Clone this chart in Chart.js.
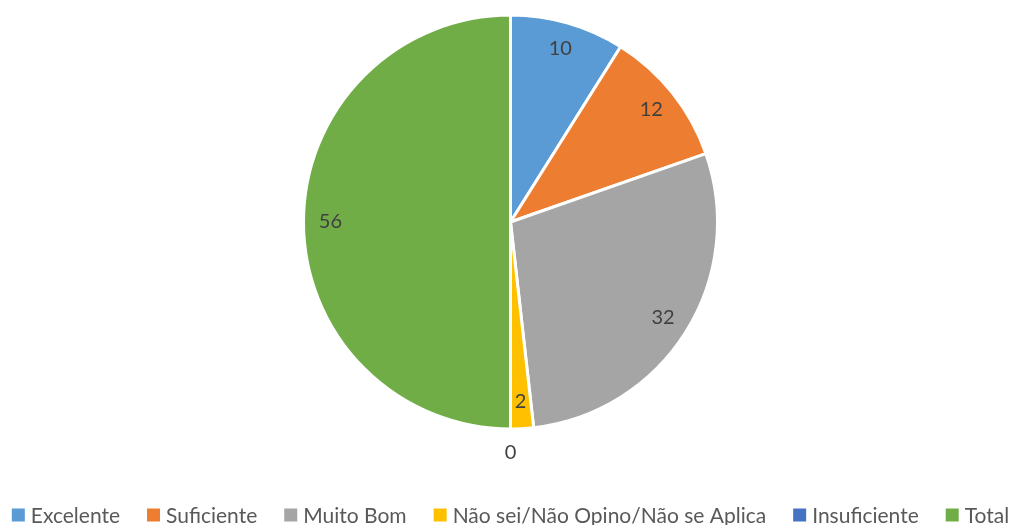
<!DOCTYPE html>
<html lang="pt">
<head>
<meta charset="UTF-8">
<title>Avaliação</title>
<script src="https://cdn.jsdelivr.net/npm/chart.js"></script>
<style>
    body { margin: 0; background: #ffffff; }
    .wrap { position: relative; width: 1021px; height: 525px; }
</style>
</head>
<body>
<div class="wrap"><canvas id="pie"></canvas></div>
<script>
const categories = ['Excelente', 'Suficiente', 'Muito Bom', 'Não sei/Não Opino/Não se Aplica', 'Insuficiente', 'Total'];
const values = [10, 12, 32, 2, 0, 56];
const colors = ['#5B9BD5', '#ED7D31', '#A5A5A5', '#FFC000', '#4472C4', '#70AD47'];

const FONT = 'Lato, "Open Sans", sans-serif';

// data labels drawn near the outer edge of each slice, like Excel
const sliceLabels = {
    id: 'sliceLabels',
    afterDatasetsDraw(chart) {
        const ctx = chart.ctx;
        const meta = chart.getDatasetMeta(0);
        ctx.save();
        ctx.font = '20px ' + FONT;
        ctx.fillStyle = '#404040';
        ctx.textAlign = 'center';
        ctx.textBaseline = 'middle';
        meta.data.forEach((arc, i) => {
            const mid = (arc.startAngle + arc.endAngle) / 2;
            const r = values[i] === 0 ? arc.outerRadius + 24 : arc.outerRadius * 0.87;
            const x = arc.x + Math.cos(mid) * r;
            const y = arc.y + Math.sin(mid) * r;
            ctx.fillText(String(values[i]), x, y);
        });
        ctx.restore();
    }
};

// bottom legend, one row, centred
const bottomLegend = {
    id: 'bottomLegend',
    afterDraw(chart) {
        const ctx = chart.ctx;
        const box = 13, gapText = 6, gapItem = 27, y = 515;
        ctx.save();
        ctx.font = '21px ' + FONT;
        const widths = categories.map(c => box + gapText + ctx.measureText(c).width);
        const total = widths.reduce((a, b) => a + b, 0) + gapItem * (categories.length - 1);
        let x = (chart.width - total) / 2;
        ctx.textBaseline = 'middle';
        ctx.textAlign = 'left';
        categories.forEach((c, i) => {
            ctx.fillStyle = colors[i];
            ctx.fillRect(x, y - box / 2, box, box);
            ctx.fillStyle = '#595959';
            ctx.fillText(c, x + box + gapText, y + 1);
            x += widths[i] + gapItem;
        });
        ctx.restore();
    }
};

new Chart(document.getElementById('pie'), {
    type: 'pie',
    data: {
        labels: categories,
        datasets: [{
            data: values,
            backgroundColor: colors,
            borderColor: '#ffffff',
            borderWidth: 3,
            radius: 207
        }]
    },
    options: {
        responsive: true,
        maintainAspectRatio: false,
        animation: false,
        layout: { padding: { top: 0, bottom: 81 } },
        plugins: {
            tooltip: { enabled: false },
            legend: { display: false }
        }
    },
    plugins: [sliceLabels, bottomLegend]
});
</script>
</body>
</html>
